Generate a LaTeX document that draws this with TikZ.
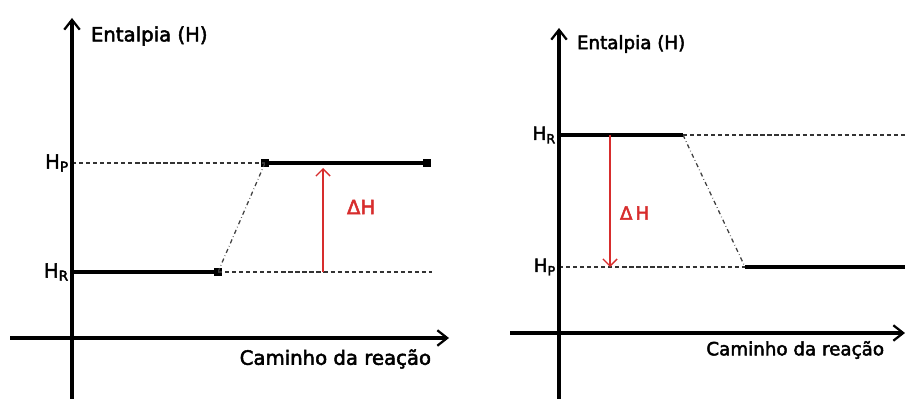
\documentclass[tikz,border=0pt]{standalone}
\usepackage{fontspec}
\setmainfont{DejaVu Sans}
\newfontfamily\grossa[FakeBold=2.5]{DejaVu Sans}
\usetikzlibrary{arrows.meta}
\definecolor{vermelho}{RGB}{215,45,45}

\begin{document}
\begin{tikzpicture}[x=0.025cm, y=-0.025cm,
    eixo/.style={line width=2.2pt, -{Straight Barb[length=7pt, width=11pt, line width=1.6pt]}},
    nivel/.style={line width=2.3pt},
    guia/.style={densely dashed, line width=0.9pt, black!80},
    trans/.style={dash dot, line width=0.9pt, black!75},
    dh/.style={vermelho, line width=1pt, -{Straight Barb[length=5pt, width=10pt]}},
    marca/.style={fill=black, minimum size=5pt, inner sep=0pt},
    rotA/.style={font=\grossa\fontsize{14}{16}\selectfont},
    rotB/.style={font=\grossa\fontsize{13}{15}\selectfont}]
    \useasboundingbox (0,0) rectangle (905,399);

    % grafico da esquerda (endotermico)
    \coordinate (baixo1) at (72,399);
    \coordinate (topo1) at (72,18);
    \coordinate (esq1) at (10,338);
    \coordinate (dir1) at (449,338);
    \coordinate (hr1) at (72,272);
    \coordinate (hp1) at (72,163);
    \coordinate (dhini1) at (323,272);
    \coordinate (dhfim1) at (323,168);
    \coordinate (gfim1) at (432,272);
    \node[marca] (r1) at (218,272) {};
    \node[marca] (p1) at (265,163) {};
    \node[marca] (pfim1) at (427,163) {};

    \draw[guia] (hp1) -- (p1.center);
    \draw[guia] (r1.center) -- (gfim1);
    \draw[trans] (r1.center) -- (p1.center);
    \draw[nivel] (hr1) -- (r1.center);
    \draw[nivel] (p1.center) -- (pfim1.center);
    \draw[eixo] (baixo1) -- (topo1);
    \draw[eixo] (esq1) -- (dir1);
    \draw[dh] (dhini1) -- (dhfim1);

    \node[rotA, anchor=west] (ent1) at (86,36) {Entalpia (H)};
    \node[rotA, anchor=east, inner sep=2pt] (lhp1) at (hp1) {H\textsubscript{P}};
    \node[rotA, anchor=east, inner sep=2pt] (lhr1) at (hr1) {H\textsubscript{R}};
    \node[rotA, anchor=west, text=vermelho] (ldh1) at (342,207) {ΔH};
    \node[rotA, anchor=east] (cam1) at (436,359) {Caminho da reação};

    % grafico da direita (exotermico)
    \coordinate (baixo2) at (559,399);
    \coordinate (topo2) at (559,28);
    \coordinate (esq2) at (510,333);
    \coordinate (dir2) at (905,333);
    \coordinate (hr2) at (559,135);
    \coordinate (hp2) at (559,267);
    \coordinate (r2) at (683,135);
    \coordinate (p2) at (745,267);
    \coordinate (gfim2) at (905,135);
    \coordinate (pfim2) at (905,267);
    \coordinate (dhini2) at (610,135);
    \coordinate (dhfim2) at (610,267);

    \draw[guia] (r2) -- (gfim2);
    \draw[guia] (hp2) -- (p2);
    \draw[trans] (r2) -- (p2);
    \draw[nivel] (hr2) -- (r2);
    \draw[nivel] (p2) -- (pfim2);
    \draw[eixo] (baixo2) -- (topo2);
    \draw[eixo] (esq2) -- (dir2);
    \draw[dh] (dhini2) -- (dhfim2);

    \node[rotB, anchor=west] (ent2) at (572,44) {Entalpia (H)};
    \node[rotB, anchor=east, inner sep=2pt] (lhr2) at (hr2) {H\textsubscript{R}};
    \node[rotB, anchor=east, inner sep=2pt] (lhp2) at (hp2) {H\textsubscript{P}};
    \node[rotB, anchor=west, text=vermelho] (ldh2) at (615,213) {Δ\,H};
    \node[rotB, anchor=east] (cam2) at (889,350) {Caminho da reação};
\end{tikzpicture}
\end{document}
